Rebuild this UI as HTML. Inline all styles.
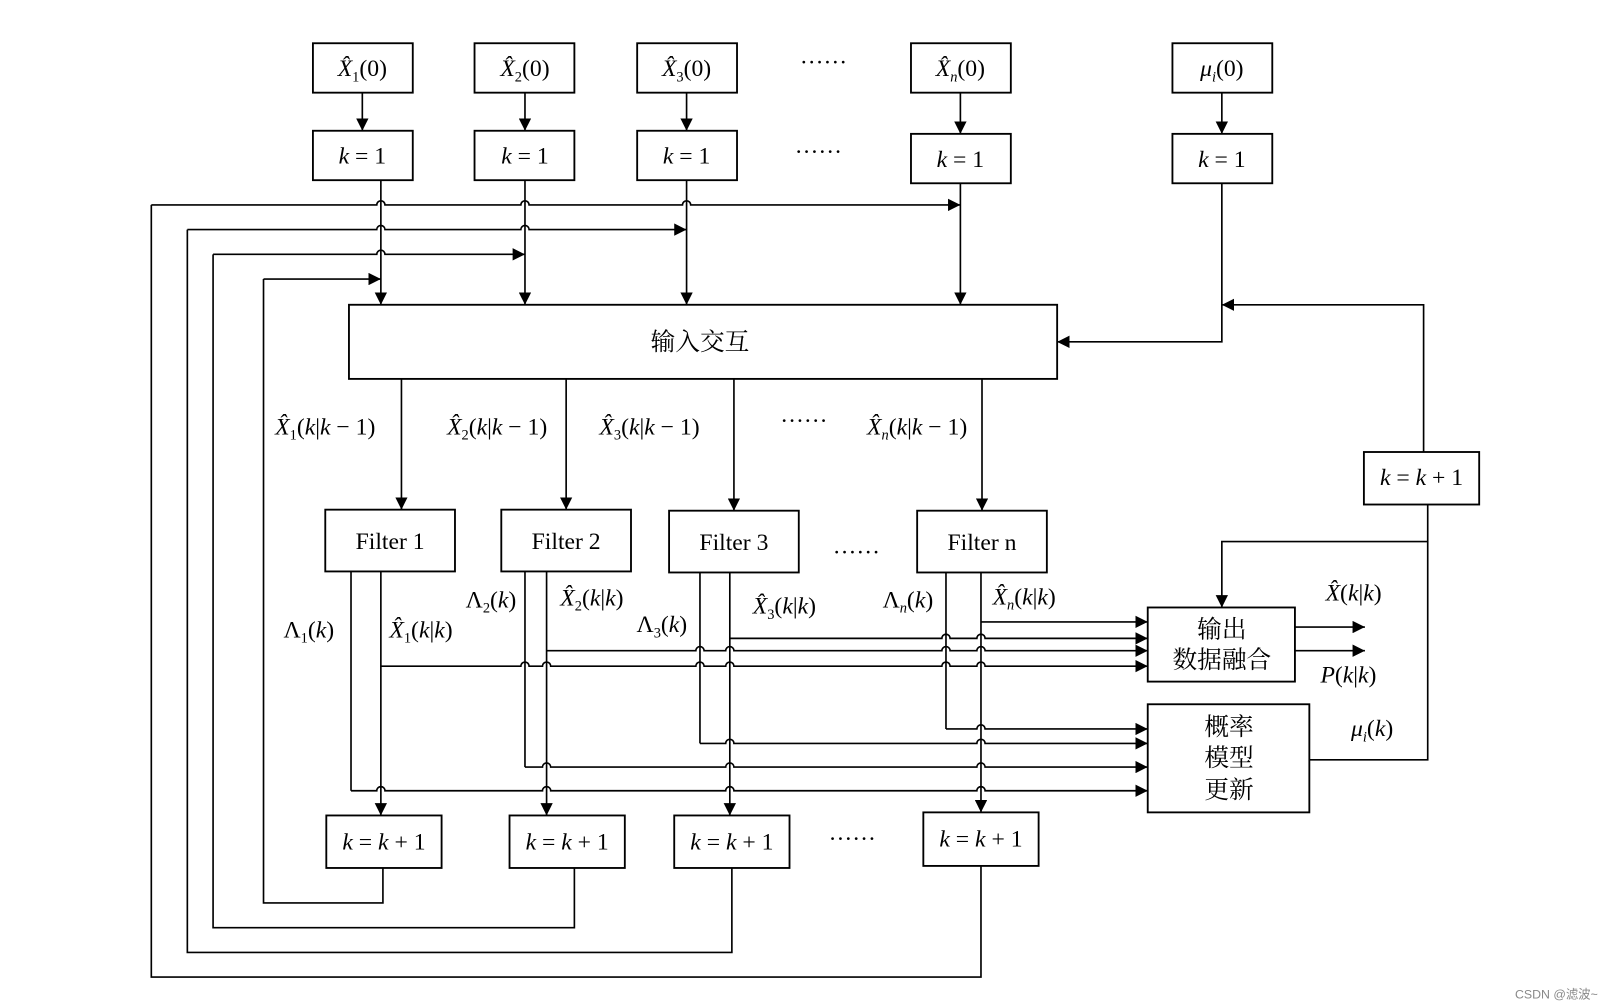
<!DOCTYPE html>
<html><head><meta charset="utf-8">
<style>
html,body{margin:0;padding:0;background:#fff;}
svg{display:block;}
text{font-family:"Liberation Serif","Noto Serif CJK SC",serif;font-size:23px;fill:#000;}
.m{font-style:italic;}
.s{font-size:14px;}
.cn{font-family:"Liberation Serif","Noto Serif CJK SC","Noto Sans CJK SC",serif;font-size:24px;}
</style></head><body>
<svg width="1613" height="1008" viewBox="0 0 1567 979" preserveAspectRatio="none" xmlns="http://www.w3.org/2000/svg">
<defs>
<marker id="a" viewBox="0 0 12 12" refX="12" refY="6" markerWidth="12" markerHeight="12" markerUnits="userSpaceOnUse" orient="auto">
<path d="M0,0 L12,6 L0,12 z" fill="#000"/></marker>
</defs>
<g fill="none" stroke="#000" stroke-width="1.8">
<rect x="304" y="42" width="97" height="48"/>
<rect x="461" y="42" width="97" height="48"/>
<rect x="619" y="42" width="97" height="48"/>
<rect x="885" y="42" width="97" height="48"/>
<rect x="1139" y="42" width="97" height="48"/>
<rect x="304" y="127" width="97" height="48"/>
<rect x="461" y="127" width="97" height="48"/>
<rect x="619" y="127" width="97" height="48"/>
<rect x="885" y="130" width="97" height="48"/>
<rect x="1139" y="130" width="97" height="48"/>
<rect x="339" y="296" width="688" height="72"/>
<rect x="316" y="495" width="126" height="60"/>
<rect x="487" y="495" width="126" height="60"/>
<rect x="650" y="496" width="126" height="60"/>
<rect x="891" y="496" width="126" height="60"/>
<rect x="317" y="792" width="112" height="51"/>
<rect x="495" y="792" width="112" height="51"/>
<rect x="655" y="792" width="112" height="51"/>
<rect x="897" y="789" width="112" height="52"/>
<rect x="1325" y="439" width="112" height="51"/>
<rect x="1115" y="590" width="143" height="72"/>
<rect x="1115" y="684" width="157" height="105"/>
</g>
<g fill="none" stroke="#000" stroke-width="1.6">
<path d="M352,90 V127" marker-end="url(#a)"/>
<path d="M510,90 V127" marker-end="url(#a)"/>
<path d="M667,90 V127" marker-end="url(#a)"/>
<path d="M933,90 V130" marker-end="url(#a)"/>
<path d="M1187,90 V130" marker-end="url(#a)"/>
<path d="M370,175 V296" marker-end="url(#a)"/>
<path d="M510,175 V296" marker-end="url(#a)"/>
<path d="M667,175 V296" marker-end="url(#a)"/>
<path d="M933,178 V296" marker-end="url(#a)"/>
<path d="M147,199 H366 a4,4 0 0 1 8,0 H506 a4,4 0 0 1 8,0 H663 a4,4 0 0 1 8,0 H933" marker-end="url(#a)"/>
<path d="M182,223 H366 a4,4 0 0 1 8,0 H506 a4,4 0 0 1 8,0 H667" marker-end="url(#a)"/>
<path d="M207,247 H366 a4,4 0 0 1 8,0 H510" marker-end="url(#a)"/>
<path d="M256,271 H370" marker-end="url(#a)"/>
<path d="M147,199 V949 H953 V841"/>
<path d="M182,223 V925 H711 V843"/>
<path d="M207,247 V901 H558 V843"/>
<path d="M256,271 V877 H372 V843"/>
<path d="M1187,178 V332 H1027" marker-end="url(#a)"/>
<path d="M1383,439 V296 H1187" marker-end="url(#a)"/>
<path d="M1387,490 V738 H1272"/>
<path d="M1387,526 H1187 V590" marker-end="url(#a)"/>
<path d="M390,368 V495" marker-end="url(#a)"/>
<path d="M550,368 V495" marker-end="url(#a)"/>
<path d="M713,368 V496" marker-end="url(#a)"/>
<path d="M954,368 V496" marker-end="url(#a)"/>
<path d="M341,555 V768"/>
<path d="M370,555 V792" marker-end="url(#a)"/>
<path d="M510,555 V745"/>
<path d="M531,555 V792" marker-end="url(#a)"/>
<path d="M680,556 V722"/>
<path d="M709,556 V792" marker-end="url(#a)"/>
<path d="M919,556 V708"/>
<path d="M953,556 V789" marker-end="url(#a)"/>
<path d="M953,604 H1115" marker-end="url(#a)"/>
<path d="M709,620 H915 a4,4 0 0 1 8,0 H949 a4,4 0 0 1 8,0 H1115" marker-end="url(#a)"/>
<path d="M531,632 H676 a4,4 0 0 1 8,0 H705 a4,4 0 0 1 8,0 H915 a4,4 0 0 1 8,0 H949 a4,4 0 0 1 8,0 H1115" marker-end="url(#a)"/>
<path d="M370,647 H506 a4,4 0 0 1 8,0 H527 a4,4 0 0 1 8,0 H676 a4,4 0 0 1 8,0 H705 a4,4 0 0 1 8,0 H915 a4,4 0 0 1 8,0 H949 a4,4 0 0 1 8,0 H1115" marker-end="url(#a)"/>
<path d="M919,708 H949 a4,4 0 0 1 8,0 H1115" marker-end="url(#a)"/>
<path d="M680,722 H705 a4,4 0 0 1 8,0 H949 a4,4 0 0 1 8,0 H1115" marker-end="url(#a)"/>
<path d="M510,745 H527 a4,4 0 0 1 8,0 H705 a4,4 0 0 1 8,0 H949 a4,4 0 0 1 8,0 H1115" marker-end="url(#a)"/>
<path d="M341,768 H366 a4,4 0 0 1 8,0 H527 a4,4 0 0 1 8,0 H705 a4,4 0 0 1 8,0 H949 a4,4 0 0 1 8,0 H1115" marker-end="url(#a)"/>
<path d="M1258,609 H1326" marker-end="url(#a)"/>
<path d="M1258,632 H1326" marker-end="url(#a)"/>
</g>
<g text-anchor="middle">
<text x="352" y="74" class="m">X̂<tspan class="s" font-style="normal" dy="5">1</tspan><tspan dy="-5" font-style="normal">(0)</tspan></text>
<text x="510" y="74" class="m">X̂<tspan class="s" font-style="normal" dy="5">2</tspan><tspan dy="-5" font-style="normal">(0)</tspan></text>
<text x="667" y="74" class="m">X̂<tspan class="s" font-style="normal" dy="5">3</tspan><tspan dy="-5" font-style="normal">(0)</tspan></text>
<text x="933" y="74" class="m">X̂<tspan class="s" dy="5">n</tspan><tspan dy="-5" font-style="normal">(0)</tspan></text>
<text x="1187" y="74" class="m">μ<tspan class="s" dy="5">i</tspan><tspan dy="-5" font-style="normal">(0)</tspan></text>
<text x="352" y="159" class="m">k <tspan font-style="normal">= 1</tspan></text>
<text x="510" y="159" class="m">k <tspan font-style="normal">= 1</tspan></text>
<text x="667" y="159" class="m">k <tspan font-style="normal">= 1</tspan></text>
<text x="933" y="162" class="m">k <tspan font-style="normal">= 1</tspan></text>
<text x="1187" y="162" class="m">k <tspan font-style="normal">= 1</tspan></text>
<text x="800" y="68">······</text>
<text x="795" y="155">······</text>
<text x="680" y="340" class="cn">输入交互</text>
<text x="316" y="422" class="m">X̂<tspan class="s" font-style="normal" dy="5">1</tspan><tspan dy="-5" font-style="normal">(</tspan>k<tspan font-style="normal">|</tspan>k<tspan font-style="normal"> − 1)</tspan></text>
<text x="483" y="422" class="m">X̂<tspan class="s" font-style="normal" dy="5">2</tspan><tspan dy="-5" font-style="normal">(</tspan>k<tspan font-style="normal">|</tspan>k<tspan font-style="normal"> − 1)</tspan></text>
<text x="631" y="422" class="m">X̂<tspan class="s" font-style="normal" dy="5">3</tspan><tspan dy="-5" font-style="normal">(</tspan>k<tspan font-style="normal">|</tspan>k<tspan font-style="normal"> − 1)</tspan></text>
<text x="781" y="416">······</text>
<text x="891" y="422" class="m">X̂<tspan class="s" dy="5">n</tspan><tspan dy="-5" font-style="normal">(</tspan>k<tspan font-style="normal">|</tspan>k<tspan font-style="normal"> − 1)</tspan></text>
<text x="379" y="533">Filter 1</text>
<text x="550" y="533">Filter 2</text>
<text x="713" y="534">Filter 3</text>
<text x="954" y="534">Filter n</text>
<text x="832" y="544">······</text>
<text x="300" y="619">Λ<tspan class="s" dy="5">1</tspan><tspan dy="-5">(</tspan><tspan class="m">k</tspan>)</text>
<text x="409" y="619" class="m">X̂<tspan class="s" font-style="normal" dy="5">1</tspan><tspan dy="-5" font-style="normal">(</tspan>k<tspan font-style="normal">|</tspan>k<tspan font-style="normal">)</tspan></text>
<text x="477" y="590">Λ<tspan class="s" dy="5">2</tspan><tspan dy="-5">(</tspan><tspan class="m">k</tspan>)</text>
<text x="575" y="588" class="m">X̂<tspan class="s" font-style="normal" dy="5">2</tspan><tspan dy="-5" font-style="normal">(</tspan>k<tspan font-style="normal">|</tspan>k<tspan font-style="normal">)</tspan></text>
<text x="643" y="614">Λ<tspan class="s" dy="5">3</tspan><tspan dy="-5">(</tspan><tspan class="m">k</tspan>)</text>
<text x="762" y="596" class="m">X̂<tspan class="s" font-style="normal" dy="5">3</tspan><tspan dy="-5" font-style="normal">(</tspan>k<tspan font-style="normal">|</tspan>k<tspan font-style="normal">)</tspan></text>
<text x="882" y="590">Λ<tspan class="s m" dy="5">n</tspan><tspan dy="-5">(</tspan><tspan class="m">k</tspan>)</text>
<text x="995" y="587" class="m">X̂<tspan class="s" dy="5">n</tspan><tspan dy="-5" font-style="normal">(</tspan>k<tspan font-style="normal">|</tspan>k<tspan font-style="normal">)</tspan></text>
<text x="1315" y="583" class="m">X̂<tspan font-style="normal">(</tspan>k<tspan font-style="normal">|</tspan>k<tspan font-style="normal">)</tspan></text>
<text x="1310" y="663" class="m">P<tspan font-style="normal">(</tspan>k<tspan font-style="normal">|</tspan>k<tspan font-style="normal">)</tspan></text>
<text x="1333" y="715" class="m">μ<tspan class="s" dy="5">i</tspan><tspan dy="-5" font-style="normal">(</tspan>k<tspan font-style="normal">)</tspan></text>
<text x="1187" y="619" class="cn">输出</text>
<text x="1187" y="649" class="cn">数据融合</text>
<text x="1194" y="714" class="cn">概率</text>
<text x="1194" y="744" class="cn">模型</text>
<text x="1194" y="775" class="cn">更新</text>
<text x="1381" y="471" class="m">k <tspan font-style="normal">= </tspan>k<tspan font-style="normal"> + 1</tspan></text>
<text x="373" y="825" class="m">k <tspan font-style="normal">= </tspan>k<tspan font-style="normal"> + 1</tspan></text>
<text x="551" y="825" class="m">k <tspan font-style="normal">= </tspan>k<tspan font-style="normal"> + 1</tspan></text>
<text x="711" y="825" class="m">k <tspan font-style="normal">= </tspan>k<tspan font-style="normal"> + 1</tspan></text>
<text x="953" y="822" class="m">k <tspan font-style="normal">= </tspan>k<tspan font-style="normal"> + 1</tspan></text>
<text x="828" y="822">······</text>
<text x="1512" y="970" style="font-family:'Liberation Sans','Noto Sans CJK SC',sans-serif;font-size:12px;fill:#888">CSDN @滤波~</text>
</g>
</svg>
</body></html>
